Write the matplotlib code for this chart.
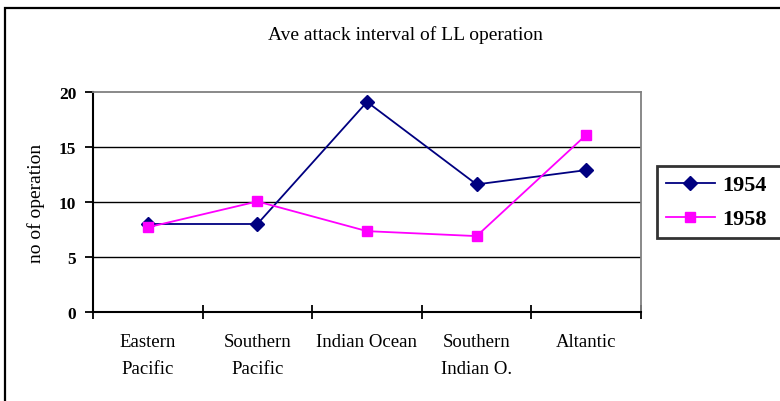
import matplotlib.pyplot as plt
from matplotlib.patches import Rectangle
from matplotlib.ticker import FixedLocator

# data
regions = ['Eastern\nPacific', 'Southern\nPacific', 'Indian Ocean',
           'Southern\nIndian O.', 'Altantic']
y1954 = [8.0, 8.0, 19.1, 11.6, 12.9]
y1958 = [7.7, 10.05, 7.35, 6.9, 16.1]
yticks = [0, 5, 10, 15, 20]

serif = ['Liberation Serif', 'DejaVu Serif']

fig = plt.figure(figsize=(7.8, 4.02), dpi=100)
ax = fig.add_axes([93 / 780, 1 - 313 / 402, 548 / 780, 220 / 402])

# outer chart frame, clipped at right and bottom like the original
fig.patches.append(Rectangle((5 / 780, -0.1), 1.2, 1 - 9 / 402 + 0.1,
                             transform=fig.transFigure, fill=False,
                             edgecolor='black', linewidth=1.6, clip_on=False))

xs = [i + 0.5 for i in range(len(regions))]
ax.plot(xs, y1954, color='#000080', linewidth=1.3, marker='D', markersize=7,
        markerfacecolor='#000080', markeredgecolor='#000080', label='1954')
ax.plot(xs, y1958, color='#FF00FF', linewidth=1.3, marker='s', markersize=7,
        markerfacecolor='#FF00FF', markeredgecolor='#FF00FF', label='1958')

ax.set_xlim(0, len(regions))
ax.set_ylim(0, 20)
for v in yticks[1:-1]:
    ax.axhline(v, color='black', linewidth=1.0, zorder=0)

ax.spines['left'].set_color('black')
ax.spines['bottom'].set_color('black')
ax.spines['left'].set_linewidth(1.5)
ax.spines['bottom'].set_linewidth(1.5)
ax.spines['top'].set_color('#808080')
ax.spines['right'].set_color('#808080')
ax.spines['top'].set_linewidth(1.3)
ax.spines['right'].set_linewidth(1.3)

ax.xaxis.set_major_locator(FixedLocator(range(len(regions) + 1)))
ax.xaxis.set_minor_locator(FixedLocator(xs))
ax.set_xticklabels([''] * (len(regions) + 1))
ax.set_xticklabels(regions, minor=True, family=serif, fontsize=13.5,
                   linespacing=1.75)
ax.tick_params(axis='x', which='major', direction='inout', length=10,
               width=1.3)
ax.tick_params(axis='x', which='minor', length=0, pad=15)

ax.set_yticks(yticks)
ax.set_yticklabels([str(v) for v in yticks], family=serif, fontsize=12.5,
                   fontweight='bold')
ax.tick_params(axis='y', direction='out', length=6, width=1.3, pad=6)
ax.set_ylabel('no of operation', family=serif, fontsize=14, labelpad=10)

fig.text(0.52, 1 - 35 / 402, 'Ave attack interval of LL operation',
         ha='center', va='center', family=serif, fontsize=14)

# legend box runs past the right edge of the picture, as in the reference
leg = fig.legend(loc='upper left',
                 bbox_to_anchor=(657 / 780, 1 - 167 / 402, 0.2, 0),
                 mode='expand',
                 prop={'family': serif, 'size': 16, 'weight': 'bold'},
                 frameon=True, fancybox=False, edgecolor='black',
                 handlelength=2.2, borderpad=0.4, labelspacing=0.6,
                 handletextpad=0.35, borderaxespad=0)
leg.get_frame().set_linewidth(2)

fig.savefig('out.png', dpi=100)
